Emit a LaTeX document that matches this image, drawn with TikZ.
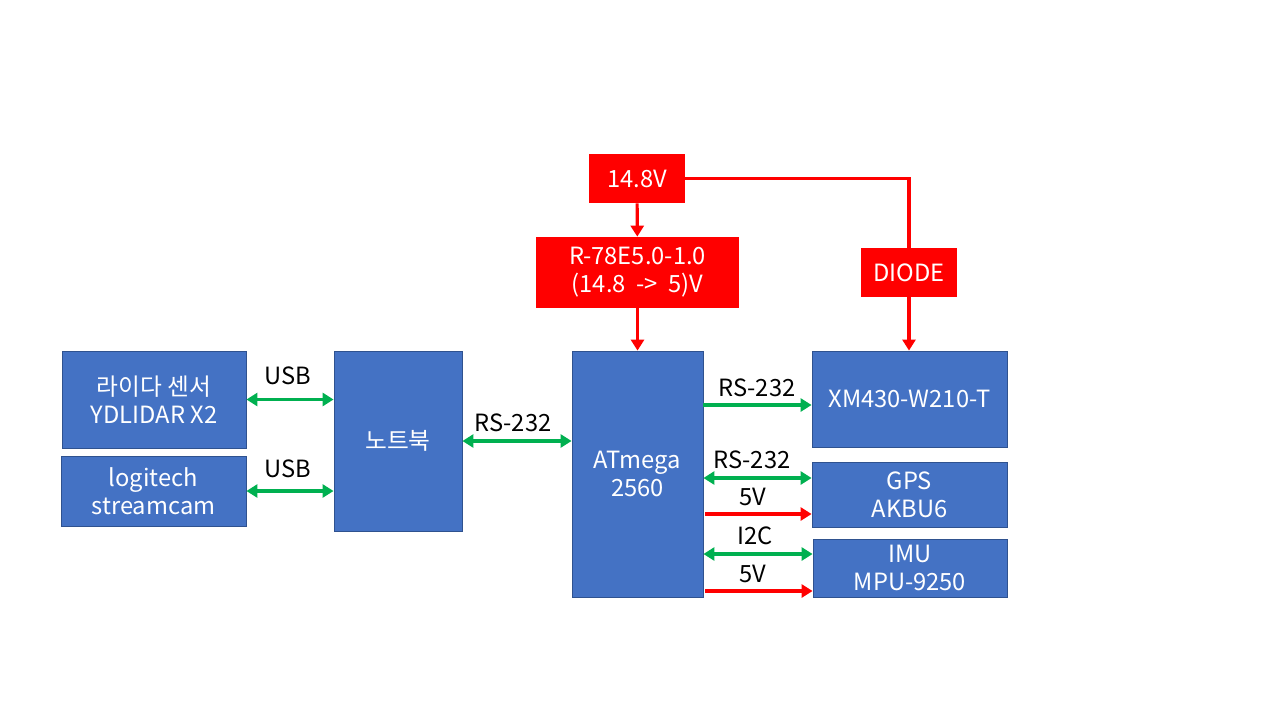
\documentclass[tikz,border=0pt]{standalone}
\usepackage{fontspec}
\setmainfont{Noto Sans CJK KR}
\usetikzlibrary{arrows.meta,calc}
\definecolor{BoxClr}{RGB}{68,114,196}
\definecolor{EdgeClr}{RGB}{47,82,143}
\definecolor{PwrClr}{RGB}{255,0,0}
\definecolor{SigClr}{RGB}{0,176,80}

\begin{document}
\begin{tikzpicture}[x=0.02cm,y=-0.02cm,
  font=\fontsize{13.5}{16}\selectfont,
  blk/.style={draw=EdgeClr,line width=0.5pt,fill=BoxClr,text=white,align=center,inner sep=0pt},
  pwr/.style={fill=PwrClr,text=white,align=center,inner sep=0pt},
  sig/.style={draw=SigClr,line width=1.8pt,-{Triangle[length=2.2mm,width=2.6mm]}},
  sigb/.style={sig,{Triangle[length=2.2mm,width=2.6mm]}-{Triangle[length=2.2mm,width=2.6mm]}},
  vcc/.style={draw=PwrClr,line width=1.8pt,-{Triangle[length=2.2mm,width=2.6mm]}},
  lbl/.style={inner sep=0pt}]
\useasboundingbox (0,0) rectangle (1280,720);

\node[blk,minimum width=3.68cm,minimum height=1.94cm] (lidar) at (154,399.5) {라이다 센서\\YDLIDAR X2};
\node[blk,minimum width=3.70cm,minimum height=1.40cm] (cam) at (153.5,491) {logitech\\streamcam};
\node[blk,minimum width=2.56cm,minimum height=3.60cm] (nb) at (398,441) {노트북};
\node[blk,minimum width=2.62cm,minimum height=4.92cm] (atm) at (637.5,474) {ATmega\\2560};
\node[blk,minimum width=3.90cm,minimum height=1.92cm] (xm) at (909.5,399) {XM430-W210-T};
\node[blk,minimum width=3.90cm,minimum height=1.30cm] (gps) at (909.5,494.5) {GPS\\AKBU6};
\node[blk,minimum width=3.88cm,minimum height=1.16cm] (imu) at (910,568) {IMU\\MPU-9250};

\node[pwr,minimum width=1.92cm,minimum height=0.98cm] (bat) at (637,178.5) {14.8V};
\node[pwr,minimum width=4.06cm,minimum height=1.42cm] (reg) at (637.5,272.5) {R-78E5.0-1.0\\(14.8~~->~~5)V};
\node[pwr,minimum width=1.92cm,minimum height=0.98cm] (diode) at (909,272.5) {DIODE};

% power
\draw[vcc] (bat) -- (reg);
\draw[vcc] (reg) -- (reg |- atm.north);
\draw[draw=PwrClr,line width=1.8pt] (bat.east) -| (diode.north);
\draw[vcc] (diode) -- (diode |- xm.north);

% notebook side
\draw[sigb] (lidar.east) -- (lidar.east -| nb.west);
\draw[sigb] (cam.east) -- (cam.east -| nb.west);
\draw[sigb] (nb.east) -- (nb.east -| atm.west);

% ATmega side
\coordinate (pXm) at ($(xm.west)+(0,6)$);
\coordinate (pGa) at ($(gps.west)+(0,-16.5)$);
\coordinate (pGb) at ($(gps.west)+(0,19.5)$);
\coordinate (pIa) at ($(imu.west)+(0,-14)$);
\coordinate (pIb) at ($(imu.west)+(0,23)$);
\draw[sig] (pXm -| atm.east) -- (pXm);
\draw[sigb] (pGa -| atm.east) -- (pGa);
\draw[vcc] ($(pGb -| atm.east)+(2,0)$) -- (pGb);
\draw[sigb] (pIa -| atm.east) -- (pIa);
\draw[vcc] ($(pIb -| atm.east)+(2,0)$) -- (pIb);

\node[lbl] (usbA) at (288,376) {USB};
\node[lbl] (usbB) at (288,469) {USB};
\node[lbl] (rsNb) at (513,423) {RS-232};
\node[lbl] (rsXm) at (757,388) {RS-232};
\node[lbl] (rsGps) at (752,460) {RS-232};
\node[lbl] (vGps) at (753,497) {5V};
\node[lbl] (iic) at (755,536) {I2C};
\node[lbl] (vImu) at (753,574) {5V};

\end{tikzpicture}
\end{document}
